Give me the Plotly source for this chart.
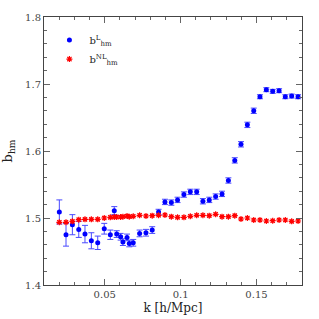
import plotly.graph_objects as go

k_L = [0.0201, 0.0245, 0.0287, 0.0329, 0.037, 0.0412, 0.0454, 0.0497, 0.0537, 0.0563,
       0.0579, 0.0605, 0.062, 0.0647, 0.0662, 0.0688, 0.073, 0.0772, 0.0813, 0.0855,
       0.0897, 0.0939, 0.098, 0.1022, 0.1064, 0.1106, 0.1147, 0.1189, 0.1231, 0.1273,
       0.1315, 0.1357, 0.1398, 0.144, 0.1482, 0.1523, 0.1565, 0.1607, 0.1649, 0.169,
       0.1732, 0.1774]
b_L = [1.509, 1.475, 1.490, 1.483, 1.476, 1.466, 1.463, 1.484, 1.475, 1.511,
       1.476, 1.472, 1.464, 1.471, 1.462, 1.463, 1.477, 1.478, 1.482, 1.509,
       1.524, 1.523, 1.527, 1.535, 1.539, 1.539, 1.525, 1.527, 1.532, 1.536,
       1.556, 1.586, 1.610, 1.639, 1.660, 1.681, 1.6915, 1.689, 1.690, 1.681,
       1.682, 1.681]
e_L = [0.018, 0.017, 0.015, 0.012, 0.013, 0.012, 0.010, 0.008, 0.007, 0.006,
       0.005, 0.005, 0.005, 0.005, 0.005, 0.005, 0.005, 0.005, 0.005, 0.004,
       0.004, 0.004, 0.004, 0.004, 0.004, 0.004, 0.004, 0.004, 0.004, 0.004,
       0.004, 0.004, 0.004, 0.004, 0.004, 0.003, 0.003, 0.003, 0.003, 0.003,
       0.003, 0.003]

k_NL = k_L
b_NL = [1.4936, 1.4936, 1.495, 1.4975, 1.498, 1.498, 1.498, 1.500, 1.501, 1.5015,
        1.5015, 1.5015, 1.502, 1.503, 1.502, 1.5025, 1.504, 1.503, 1.5035, 1.504,
        1.5045, 1.502, 1.501, 1.501, 1.5025, 1.504, 1.504, 1.5035, 1.5055, 1.502,
        1.502, 1.5035, 1.4985, 1.500, 1.497, 1.497, 1.4955, 1.496, 1.497, 1.497,
        1.495, 1.4955]
e_NL = [0.002] * len(k_NL)

x_ticks = [0.05, 0.1, 0.15]
x_ticklabels = ["0.05", "0.1", "0.15"]
y_ticks = [1.4, 1.5, 1.6, 1.7, 1.8]
y_ticklabels = ["1.4", "1.5", "1.6", "1.7", "1.8"]

font_family = "DejaVu Serif"

fig = go.Figure()
fig.add_trace(go.Scatter(
    x=k_L, y=b_L, mode="markers", name="b<sup>L</sup><sub>hm</sub>",
    marker=dict(symbol="circle", size=5, color="#0000ff"),
    error_y=dict(type="data", array=e_L, color="#4a4aff", thickness=1, width=3),
))
fig.add_trace(go.Scatter(
    x=k_NL, y=b_NL, mode="markers", name="b<sup>NL</sup><sub>hm</sub>",
    marker=dict(symbol="asterisk", size=5, color="#ff0000",
                line=dict(color="#ff0000", width=1.2)),
    error_y=dict(type="data", array=e_NL, color="#ff5050", thickness=1, width=2),
))

axis_common = dict(
    showgrid=False, zeroline=False, showline=True, linecolor="#444", linewidth=1,
    mirror="allticks", ticks="inside", ticklen=6, tickcolor="#666",
    tickfont=dict(family=font_family, size=10, color="#444"),
    automargin=True,
)
fig.update_xaxes(
    range=[0.01, 0.18], tickvals=x_ticks, ticktext=x_ticklabels,
    minor=dict(ticks="inside", dtick=0.01, tick0=0, ticklen=3, tickcolor="#666"),
    title=dict(text="k [h/Mpc]", font=dict(family=font_family, size=12, color="#222"), standoff=4),
    **axis_common,
)
fig.update_yaxes(
    range=[1.4, 1.8], tickvals=y_ticks, ticktext=y_ticklabels,
    minor=dict(ticks="inside", dtick=0.02, tick0=1.4, ticklen=3, tickcolor="#666"),
    title=dict(text="b<sub>hm</sub>", font=dict(family=font_family, size=13, color="#222"), standoff=17),
    **axis_common,
)
fig.update_layout(
    width=319, height=319,
    margin=dict(l=44, r=17, t=17, b=34, autoexpand=False),
    paper_bgcolor="white", plot_bgcolor="white",
    showlegend=True,
    legend=dict(x=0.021, y=0.968, xanchor="left", yanchor="top",
                bgcolor="rgba(0,0,0,0)", font=dict(family=font_family, size=10, color="#222"),
                itemwidth=30, tracegroupgap=6),
)
fig.write_html("out.html", config={"displayModeBar": False},
               post_script="document.body.style.margin='0px';")
